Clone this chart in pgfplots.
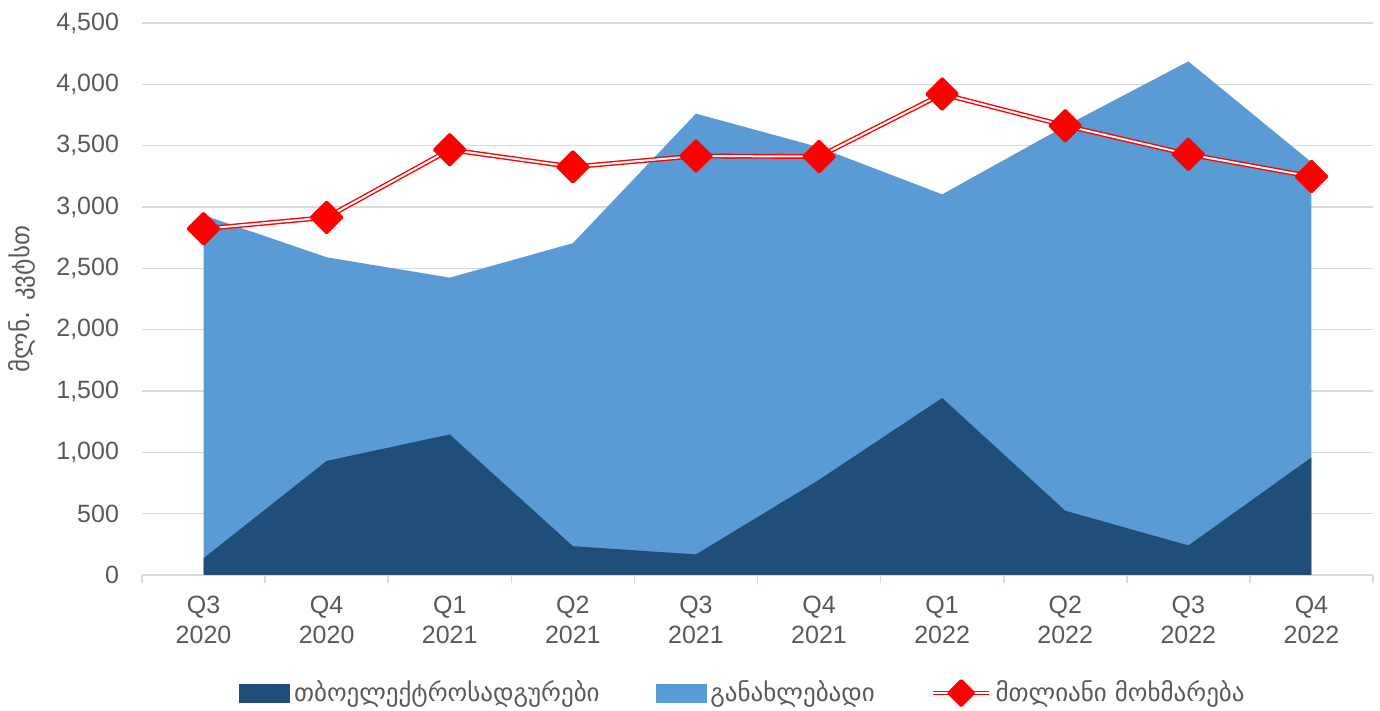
\documentclass[border=0pt]{standalone}
\usepackage{fontspec}
\setmainfont{Liberation Sans}
\newfontfamily\geo{DejaVu Sans}
\usepackage{pgfplots}
\usepackage{pgfplotstable}
\pgfplotsset{compat=1.18}
\definecolor{thermal}{HTML}{1F4E79}
\definecolor{renew}{HTML}{5B9BD5}
\definecolor{txt}{HTML}{595959}
\definecolor{gridc}{HTML}{D9D9D9}

\tikzset{
  totline/.style={draw=red, line width=0.7pt, double=white, double distance=1pt},
  totmark/.style={solid, fill=red, draw=red, rotate=45, line width=1.5pt, line join=round},
}

\pgfplotstableread{
x thermal renew total
0 137 2797 2822
1 930 1660 2915
2 1146 1278 3467
3 235 2470 3327
4 168 3593 3416
5 776 2711 3411
6 1443 1660 3921
7 524 3136 3663
8 241 3946 3430
9 958 2407 3248
}\data

\begin{document}
\begin{tikzpicture}
\useasboundingbox (-71pt,-68pt) rectangle (619pt,287.5pt);
\begin{axis}[
  at={(0pt,0pt)}, anchor=south west,
  scale only axis, width=615.5pt, height=276pt,
  xmin=-0.5, xmax=9.5, ymin=0, ymax=4500,
  ytick={0,500,...,4500},
  xtick={0,...,9},
  xticklabels={{Q3\\2020},{Q4\\2020},{Q1\\2021},{Q2\\2021},{Q3\\2021},{Q4\\2021},{Q1\\2022},{Q2\\2022},{Q3\\2022},{Q4\\2022}},
  axis x line*=bottom, axis y line*=left,
  y axis line style={draw=none},
  x axis line style={draw=gridc, line width=0.8pt},
  ymajorgrids, grid style={draw=gridc, line width=0.8pt},
  major tick length=0pt,
  ytick style={draw=none},
  extra x ticks={-0.5,0.5,...,9.5},
  extra x tick labels={},
  extra x tick style={major tick length=4pt, tick align=outside, tick style={draw=gridc, line width=0.8pt}, grid=none},
  tick label style={font=\fontsize{12.5}{15}\selectfont, text=txt},
  /pgf/number format/assume math mode=true,
  /pgf/number format/1000 sep={,},
  scaled y ticks=false,
  yticklabel style={xshift=-8pt},
  xticklabel style={align=center, yshift=-7pt},
  ylabel={მლნ. კვტსთ},
  ylabel style={at={(axis description cs:-0.0975,0.5)}, anchor=center, font=\geo\fontsize{12.5}{15}\selectfont, text=txt},
  legend style={at={(0.489,-0.2138)}, anchor=center, legend columns=3, draw=none, fill=none,
    font=\geo\fontsize{12.5}{15}\selectfont, text=txt,
    /tikz/every even column/.append style={column sep=26pt}},
  legend cell align=left,
]
\addplot[fill=renew, draw=none, forget plot] table[x=x, y expr=\thisrow{thermal}+\thisrow{renew}]{\data} \closedcycle;
\addplot[fill=thermal, draw=none, forget plot] table[x=x, y=thermal]{\data} \closedcycle;
\addplot[totline, mark=square*, mark size=5.4pt, mark options={totmark}, forget plot] table[x=x, y=total]{\data};
\addlegendimage{legend image code/.code={\fill[thermal] (0pt,-4.5pt) rectangle (25pt,4.5pt);}}
\addlegendimage{legend image code/.code={\fill[renew] (0pt,-4.5pt) rectangle (25pt,4.5pt);}}
\addlegendimage{legend image code/.code={\draw[totline] (0pt,0pt) -- (28pt,0pt); \fill[red, draw=red, line width=1.5pt, line join=round, rotate around={45:(14pt,0pt)}] (9.6pt,-4.4pt) rectangle (18.4pt,4.4pt);}}
\legend{თბოელექტროსადგურები, განახლებადი, მთლიანი მოხმარება}
\end{axis}
\end{tikzpicture}
\end{document}
